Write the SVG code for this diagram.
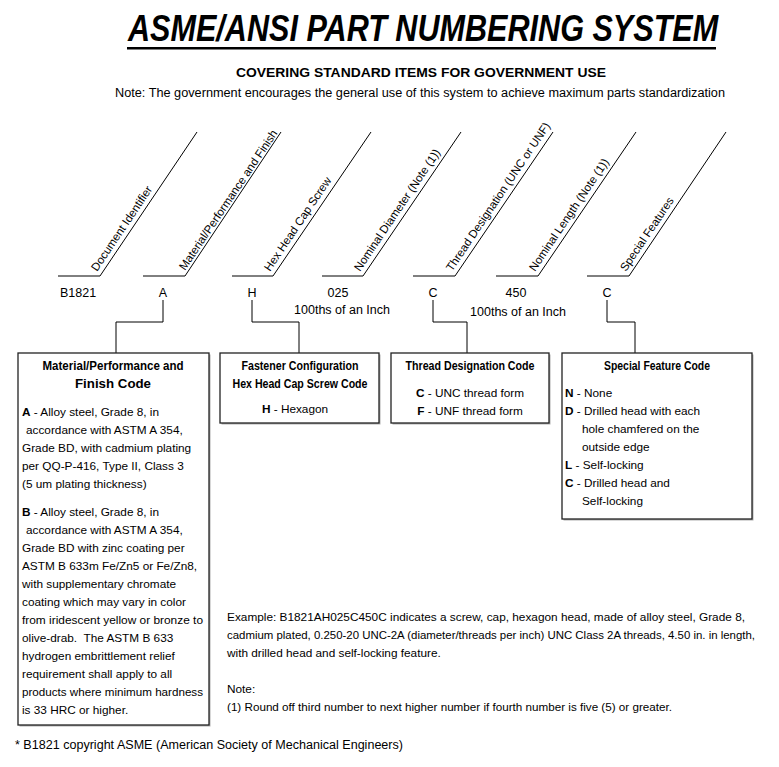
<svg xmlns="http://www.w3.org/2000/svg" width="779" height="767" viewBox="0 0 779 767">
<style>
text{font-family:"Liberation Sans",Arial,sans-serif;fill:#000}
.title{font-size:30.6px;font-weight:bold;font-style:italic}
.sub{font-size:13.5px;font-weight:bold}
.note{font-size:12.5px}
.diag{font-size:11.5px}
.code{font-size:12.5px}
.body{font-size:11.8px}
.bt{font-size:12px;font-weight:bold}
.b{font-weight:bold}
.ln{stroke:#000;stroke-width:1;fill:none}
.box{fill:#fff;stroke:#222;stroke-width:1.3}
.shadow{fill:#b0b0b0}
</style>
<g id="header">
<text class="title" transform="translate(128,41) scale(1,1.2)" x="0" y="0">ASME/ANSI PART NUMBERING SYSTEM</text>
<rect x="127" y="47" width="589" height="2.5" fill="#000"/>
<text class="sub" x="236" y="77" textLength="370" lengthAdjust="spacingAndGlyphs">COVERING STANDARD ITEMS FOR GOVERNMENT USE</text>
<text class="note" x="115" y="97" textLength="610" lengthAdjust="spacingAndGlyphs">Note: The government encourages the general use of this system to achieve maximum parts standardization</text>
</g>
<g id="fields">
<path class="ln" d="M58,276H100L197,132"/>
<path class="ln" d="M143,276H185L281,132"/>
<path class="ln" d="M232,276H273L371,132"/>
<path class="ln" d="M322,276H363L461,132"/>
<path class="ln" d="M413,276H455L553,132"/>
<path class="ln" d="M496,276H538L636,132"/>
<path class="ln" d="M587,276H629L726,132"/>
<text class="diag" transform="translate(97,272) rotate(-56)">Document Identifier</text>
<text class="diag" transform="translate(185,271) rotate(-56)">Material/Performance and Finish</text>
<text class="diag" transform="translate(270,272) rotate(-56)">Hex Head Cap Screw</text>
<text class="diag" transform="translate(360,272) rotate(-56)">Nominal Diameter (Note (1))</text>
<text class="diag" transform="translate(452,272) rotate(-56)">Thread Designation (UNC or UNF)</text>
<text class="diag" transform="translate(535,272) rotate(-56)">Nominal Length (Note (1))</text>
<text class="diag" transform="translate(626,272) rotate(-56)">Special Features</text>
</g>
<g id="codes">
<text class="code" x="60" y="297">B1821</text>
<text class="code" x="163" y="297" text-anchor="middle">A</text>
<text class="code" x="252" y="297" text-anchor="middle">H</text>
<text class="code" x="338" y="297" text-anchor="middle">025</text>
<text class="code" x="433" y="297" text-anchor="middle">C</text>
<text class="code" x="516" y="297" text-anchor="middle">450</text>
<text class="code" x="607" y="297" text-anchor="middle">C</text>
<text class="code" x="342" y="314" text-anchor="middle">100ths of an Inch</text>
<text class="code" x="518" y="316" text-anchor="middle">100ths of an Inch</text>
</g>
<g id="connectors">
<path class="ln" d="M163,300V322H116V353"/>
<path class="ln" d="M252,300V322H299V353"/>
<path class="ln" d="M433,300V322H467V353"/>
<path class="ln" d="M607,300V322H635V353"/>
</g>
<g id="material-box">
<rect class="shadow" x="19.5" y="354.5" width="191" height="372"/>
<rect class="box" x="18" y="353" width="191" height="372"/>
<text class="bt" x="113" y="370" text-anchor="middle" textLength="141" lengthAdjust="spacingAndGlyphs">Material/Performance and</text>
<text class="bt" x="113" y="388" text-anchor="middle" textLength="76" lengthAdjust="spacingAndGlyphs">Finish Code</text>
<text class="body" x="22" y="416"><tspan class="b">A</tspan> - Alloy steel, Grade 8, in</text>
<text class="body" x="26" y="434">accordance with ASTM A 354,</text>
<text class="body" x="22" y="452">Grade BD, with cadmium plating</text>
<text class="body" x="22" y="470">per QQ-P-416, Type II, Class 3</text>
<text class="body" x="22" y="488">(5 um plating thickness)</text>
<text class="body" x="22" y="516"><tspan class="b">B</tspan> - Alloy steel, Grade 8, in</text>
<text class="body" x="26" y="534">accordance with ASTM A 354,</text>
<text class="body" x="22" y="552">Grade BD with zinc coating per</text>
<text class="body" x="22" y="570">ASTM B 633m Fe/Zn5 or Fe/Zn8,</text>
<text class="body" x="22" y="588">with supplementary chromate</text>
<text class="body" x="22" y="606">coating which may vary in color</text>
<text class="body" x="22" y="624" textLength="181" lengthAdjust="spacingAndGlyphs">from iridescent yellow or bronze to</text>
<text class="body" x="22" y="642" xml:space="preserve">olive-drab.  The ASTM B 633</text>
<text class="body" x="22" y="660">hydrogen embrittlement relief</text>
<text class="body" x="22" y="678">requirement shall apply to all</text>
<text class="body" x="22" y="696" textLength="181" lengthAdjust="spacingAndGlyphs">products where minimum hardness</text>
<text class="body" x="22" y="714">is 33 HRC or higher.</text>
</g>
<g id="fastener-box">
<rect class="shadow" x="221.5" y="354.5" width="159" height="70"/>
<rect class="box" x="220" y="353" width="159" height="70"/>
<text class="bt" x="300" y="370" text-anchor="middle" textLength="117" lengthAdjust="spacingAndGlyphs">Fastener Configuration</text>
<text class="bt" x="300" y="388" text-anchor="middle" textLength="135" lengthAdjust="spacingAndGlyphs">Hex Head Cap Screw Code</text>
<text class="body" x="295" y="413" text-anchor="middle"><tspan class="b">H</tspan> - Hexagon</text>
</g>
<g id="thread-box">
<rect class="shadow" x="392.5" y="354.5" width="158" height="70"/>
<rect class="box" x="391" y="353" width="158" height="70"/>
<text class="bt" x="470" y="370" text-anchor="middle" textLength="129" lengthAdjust="spacingAndGlyphs">Thread Designation Code</text>
<text class="body" x="470" y="397" text-anchor="middle"><tspan class="b">C</tspan> - UNC thread form</text>
<text class="body" x="470" y="415" text-anchor="middle"><tspan class="b">F</tspan> - UNF thread form</text>
</g>
<g id="special-box">
<rect class="shadow" x="563.5" y="354.5" width="190" height="166"/>
<rect class="box" x="562" y="353" width="190" height="166"/>
<text class="bt" x="657" y="370" text-anchor="middle" textLength="106" lengthAdjust="spacingAndGlyphs">Special Feature Code</text>
<text class="body" x="565" y="397"><tspan class="b">N</tspan> - None</text>
<text class="body" x="565" y="415"><tspan class="b">D</tspan> - Drilled head with each</text>
<text class="body" x="582" y="433">hole chamfered on the</text>
<text class="body" x="582" y="451">outside edge</text>
<text class="body" x="565" y="469"><tspan class="b">L</tspan> - Self-locking</text>
<text class="body" x="565" y="487"><tspan class="b">C</tspan> - Drilled head and</text>
<text class="body" x="582" y="505">Self-locking</text>
</g>
<g id="example">
<text class="body" x="227" y="621" textLength="518" lengthAdjust="spacingAndGlyphs">Example: B1821AH025C450C indicates a screw, cap, hexagon head, made of alloy steel, Grade 8,</text>
<text class="body" x="227" y="639" textLength="528" lengthAdjust="spacingAndGlyphs">cadmium plated, 0.250-20 UNC-2A (diameter/threads per inch) UNC Class 2A threads, 4.50 in. in length,</text>
<text class="body" x="227" y="657">with drilled head and self-locking feature.</text>
<text class="body" x="227" y="693">Note:</text>
<text class="body" x="227" y="711" textLength="445" lengthAdjust="spacingAndGlyphs">(1) Round off third number to next higher number if fourth number is five (5) or greater.</text>
</g>
<g id="footer">
<text class="note" x="15" y="749" textLength="388" lengthAdjust="spacingAndGlyphs">* B1821 copyright ASME (American Society of Mechanical Engineers)</text>
</g>
</svg>
